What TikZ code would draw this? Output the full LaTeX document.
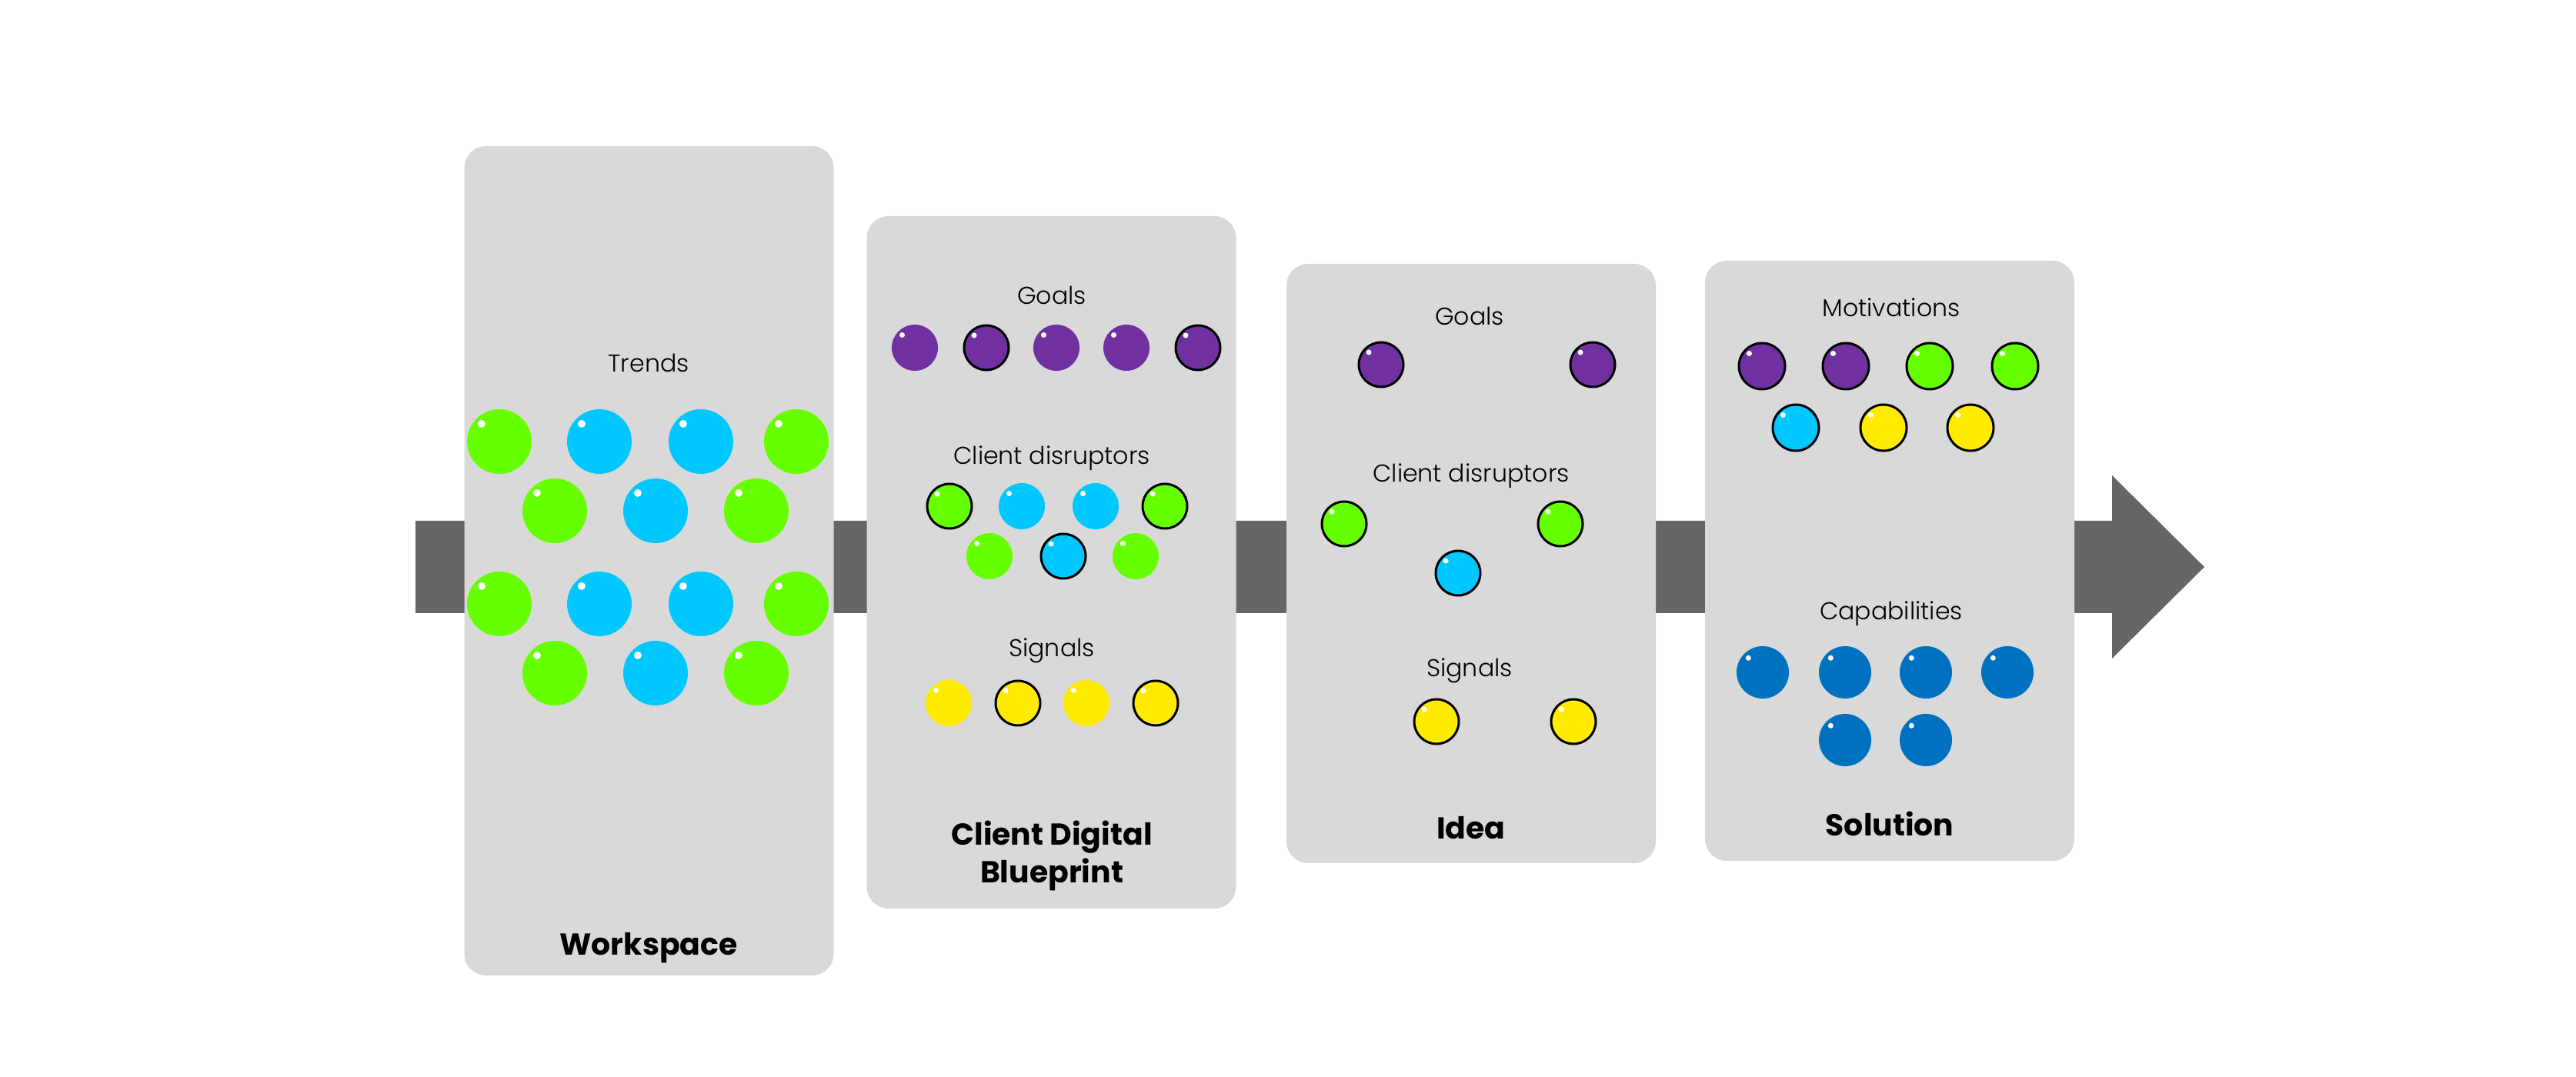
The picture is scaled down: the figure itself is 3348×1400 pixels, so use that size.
\documentclass[tikz,border=0pt]{standalone}
\usepackage{fontspec}
\setmainfont{Poppins}
\newfontfamily\thinfont{Poppins}[UprightFont=* Light]
\usetikzlibrary{calc}
\definecolor{panelgray}{HTML}{D9D9D9}
\definecolor{arrowgray}{HTML}{666666}
\definecolor{limeball}{HTML}{66FF00}
\definecolor{skyball}{HTML}{00C8FF}
\definecolor{grapeball}{HTML}{7030A0}
\definecolor{lemonball}{HTML}{FFEB00}
\definecolor{navyball}{HTML}{0070C0}
\tikzset{hl/.store in=\hlrad, hl=0.35mm}

\begin{document}
\begin{tikzpicture}[x=0.1mm, y=-0.1mm,
  panel/.style={fill=panelgray, rounded corners=2.8mm, inner sep=0pt, minimum width=48mm},
  lbl/.style={anchor=base, inner sep=0pt, font=\thinfont\fontsize{9}{11}\selectfont},
  ttl/.style={anchor=base, inner sep=0pt, align=center, font=\fontsize{11.2}{14}\selectfont\bfseries},
  ball/.style={circle, inner sep=0pt, minimum size=6mm, fill=#1,
    path picture={\fill[white] ($(path picture bounding box.center)!0.55!(path picture bounding box.north west)$) circle (\hlrad);}},
  big/.style={minimum size=8.4mm, hl=0.5mm},
  ring/.style={draw=black, line width=0.3mm, minimum size=5.8mm}]
  \useasboundingbox (0,0) rectangle (3348,1400);

  % the process arrow behind the cards
  \fill[arrowgray] (540,677) -- (2745,677) -- (2745,618) -- (2865,737) -- (2745,856) -- (2745,797) -- (540,797) -- cycle;

  % cards
  \node[panel, minimum height=107.8mm](work) at (843.5,729){};
  \node[panel, minimum height=90mm](blue) at (1366.5,731){};
  \node[panel, minimum height=77.9mm](idea) at (1912,732.5){};
  \node[panel, minimum height=78mm](sol) at (2456,729){};

  % workspace
  \node[lbl](trends) at (843,484){Trends};
  \foreach \y in {574,785}{
    \foreach \x/\c in {649/limeball,779/skyball,911/skyball,1035/limeball}
      \node[ball=\c, big](w-\x-\y) at (\x,\y){};
  }
  \foreach \y in {664,875}{
    \foreach \x/\c in {721/limeball,852/skyball,983/limeball}
      \node[ball=\c, big](w-\x-\y) at (\x,\y){};
  }
  \node[ttl](workt) at (843,1242){Workspace};

  % client digital blueprint
  \node[lbl](bgoals) at (1367,396){Goals};
  \foreach \x/\r in {1189/,1282/ring,1373/,1464/,1557/ring}
    \node[ball=grapeball, \r](bg-\x) at (\x,452){};
  \node[lbl](bdis) at (1367,604){Client disruptors};
  \foreach \x/\c/\r in {1234/limeball/ring,1328/skyball/,1424/skyball/,1514/limeball/ring}
    \node[ball=\c, \r](bd-\x) at (\x,658){};
  \foreach \x/\c/\r in {1286/limeball/,1382/skyball/ring,1476/limeball/}
    \node[ball=\c, \r](bd-\x) at (\x,723){};
  \node[lbl](bsig) at (1367,854){Signals};
  \foreach \x/\r in {1233/,1323/ring,1412/,1502/ring}
    \node[ball=lemonball, \r](bs-\x) at (\x,914){};
  \node[ttl](bluet) at (1367,1148){Client Digital\\Blueprint};

  % idea
  \node[lbl](igoals) at (1910,423){Goals};
  \node[ball=grapeball, ring](ig1) at (1795,474){};
  \node[ball=grapeball, ring](ig2) at (2070,474){};
  \node[lbl](idis) at (1912,627){Client disruptors};
  \node[ball=limeball, ring](id1) at (1747,681){};
  \node[ball=limeball, ring](id2) at (2028,681){};
  \node[ball=skyball, ring](id3) at (1895,745){};
  \node[lbl](isig) at (1910,880){Signals};
  \node[ball=lemonball, ring](is1) at (1867,938){};
  \node[ball=lemonball, ring](is2) at (2045,938){};
  \node[ttl](ideat) at (1912,1091){Idea};

  % solution
  \node[lbl](smot) at (2458,412){Motivations};
  \foreach \x/\c in {2290/grapeball,2399/grapeball,2508/limeball,2619/limeball}
    \node[ball=\c, ring, minimum size=6mm](sm-\x) at (\x,476){};
  \foreach \x/\c in {2334/skyball,2448/lemonball,2561/lemonball}
    \node[ball=\c, ring, minimum size=6mm](sm-\x) at (\x,556){};
  \node[lbl](scap) at (2458,806){Capabilities};
  \foreach \x in {2291,2398,2503,2609}
    \node[ball=navyball, minimum size=6.8mm](sc-\x) at (\x,874){};
  \foreach \x in {2398,2503}
    \node[ball=navyball, minimum size=6.8mm](sc-\x-b) at (\x,962){};
  \node[ttl](solt) at (2456,1087){Solution};
\end{tikzpicture}
\end{document}
